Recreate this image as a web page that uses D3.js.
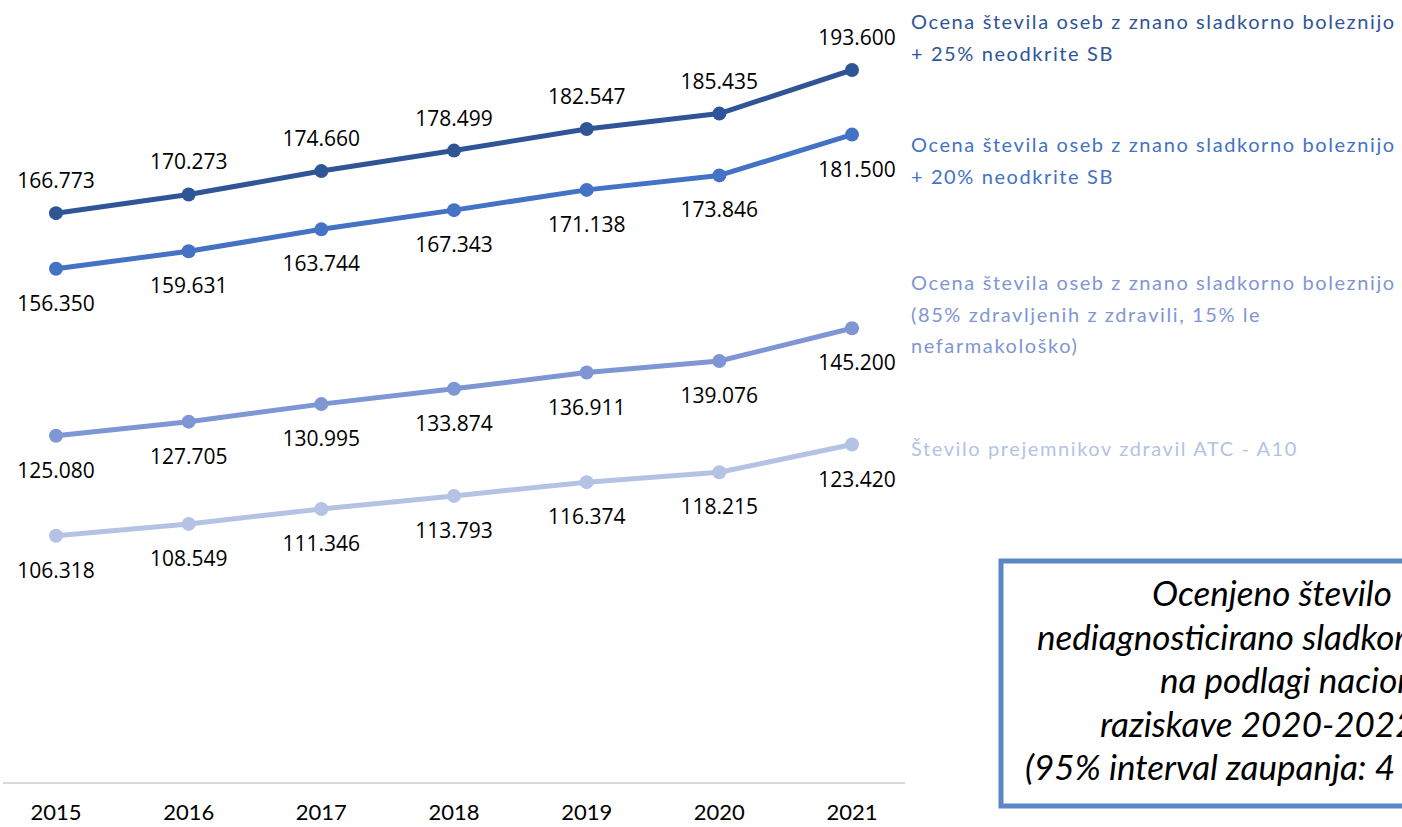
<!DOCTYPE html>
<html>
<head>
<meta charset="utf-8">
<script src="https://cdn.jsdelivr.net/npm/d3@7"></script>
<style>
  body { margin: 0; background: #fff; }
  svg { display: block; }
</style>
</head>
<body>
<div id="chart"></div>
<script>
const years = ["2015", "2016", "2017", "2018", "2019", "2020", "2021"];

const plus25 = [166773, 170273, 174660, 178499, 182547, 185435, 193600];
const plus20 = [156350, 159631, 163744, 167343, 171138, 173846, 181500];
const known = [125080, 127705, 130995, 133874, 136911, 139076, 145200];
const recipients = [106318, 108549, 111346, 113793, 116374, 118215, 123420];

const seriesNames = [
  ["Ocena števila oseb z znano sladkorno boleznijo", "+ 25% neodkrite SB"],
  ["Ocena števila oseb z znano sladkorno boleznijo", "+ 20% neodkrite SB"],
  ["Ocena števila oseb z znano sladkorno boleznijo", "(85% zdravljenih z zdravili, 15% le", "nefarmakološko)"],
  ["Število prejemnikov zdravil ATC - A10"]
];

const boxLines = [
  "Ocenjeno število",
  "nediagnosticirano sladkorno",
  "na podlagi nacionalne",
  "raziskave 2020-2022",
  "(95% interval zaupanja: 4"
];

const width = 1402;
const height = 827;

const colors = ["#2f5597", "#4472c4", "#7f96d4", "#b4c2e4"];
const legendY = [29, 152, 290, 456];
const labelPos = ["above", "below", "below", "below"];

const series = [plus25, plus20, known, recipients].map((values, i) => ({
  values: values,
  name: seriesNames[i],
  color: colors[i],
  pos: labelPos[i]
}));

const svg = d3.select("#chart")
  .append("svg")
  .attr("width", width)
  .attr("height", height);

const x = d3.scalePoint()
  .domain(years)
  .range([56, 852]);

const y = d3.scaleLinear()
  .domain([60000, 193600])
  .range([783, 70]);

// x axis baseline + year labels
svg.append("line")
  .attr("x1", 3).attr("x2", 905)
  .attr("y1", y(60000)).attr("y2", y(60000))
  .attr("stroke", "#d9d9d9")
  .attr("stroke-width", 2);

svg.selectAll(".year")
  .data(years)
  .enter()
  .append("text")
  .attr("class", "year")
  .attr("x", d => x(d))
  .attr("y", 820)
  .attr("text-anchor", "middle")
  .style("font-family", "Lato, 'Open Sans', sans-serif")
  .style("font-size", "22px")
  .style("fill", "#000")
  .text(d => d);

const line = d3.line()
  .x((d, i) => x(years[i]))
  .y(d => y(d));

const fmt = v => d3.format(",")(v).replace(/,/g, ".");

series.forEach(s => {
  const g = svg.append("g");

  g.append("path")
    .datum(s.values)
    .attr("d", line)
    .attr("fill", "none")
    .attr("stroke", s.color)
    .attr("stroke-width", 5)
    .attr("stroke-linejoin", "round");

  g.selectAll("circle")
    .data(s.values)
    .enter()
    .append("circle")
    .attr("cx", (d, i) => x(years[i]))
    .attr("cy", d => y(d))
    .attr("r", 7)
    .attr("fill", s.color);

  g.selectAll("text")
    .data(s.values)
    .enter()
    .append("text")
    .attr("x", (d, i) => x(years[i]) + (i === years.length - 1 ? 5 : 0))
    .attr("y", d => y(d) + (s.pos === "above" ? -25 : 42))
    .attr("text-anchor", "middle")
    .style("font-family", "'Open Sans', sans-serif")
    .style("font-size", "21px")
    .style("fill", "#000")
    .text(d => fmt(d));
});

// legend labels at the right
series.forEach((s, i) => {
  const t = svg.append("text")
    .attr("x", 911)
    .attr("y", legendY[i])
    .style("font-family", "Lato, 'Open Sans', sans-serif")
    .style("font-size", "20px")
    .style("letter-spacing", "1.6px")
    .style("fill", s.color);
  s.name.forEach((ln, j) => {
    t.append("tspan")
      .attr("x", 911)
      .attr("dy", j === 0 ? 0 : 31.5)
      .text(ln);
  });
});

// annotation box (cut off at the right edge)
svg.append("rect")
  .attr("x", 1001)
  .attr("y", 561)
  .attr("width", 440)
  .attr("height", 245)
  .attr("fill", "#fff")
  .attr("stroke", "#5b87c6")
  .attr("stroke-width", 5);

const lineStarts = [1152, 1037, 1160, 1100, 1025];
svg.selectAll(".boxline")
  .data(boxLines)
  .enter()
  .append("text")
  .attr("class", "boxline")
  .attr("x", (d, i) => lineStarts[i])
  .attr("y", (d, i) => 606 + i * 43.5)
  .style("font-family", "Lato, 'Open Sans', sans-serif")
  .style("font-style", "italic")
  .style("font-size", "35px")
  .style("fill", "#000")
  .text(d => d);
</script>
</body>
</html>
